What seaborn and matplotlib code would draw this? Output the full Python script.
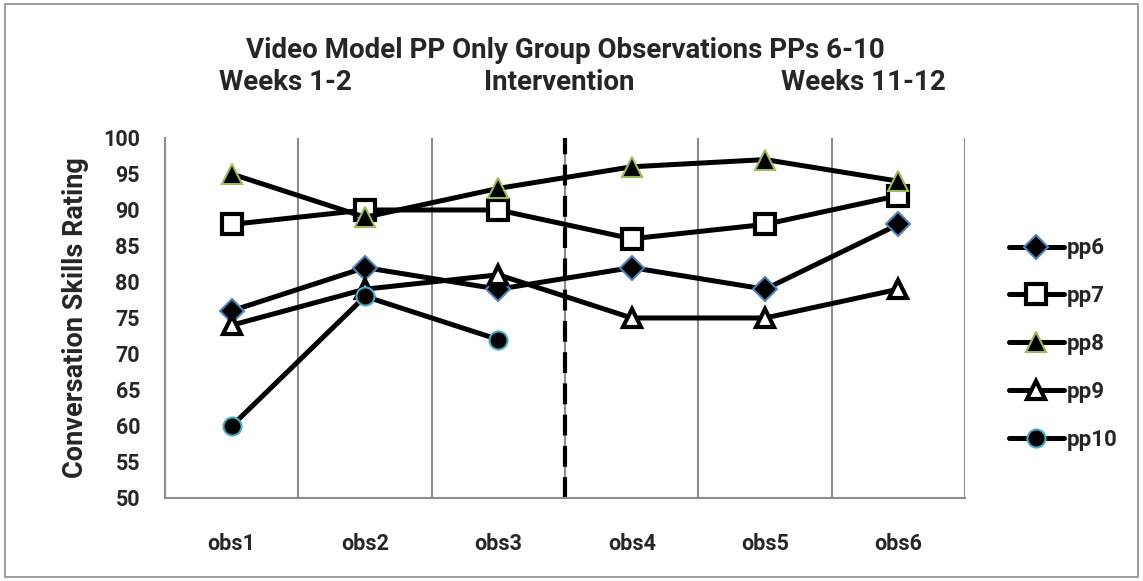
import pandas as pd
import numpy as np
import matplotlib
matplotlib.use('Agg')
import matplotlib.pyplot as plt
import seaborn as sns
from matplotlib.patches import Rectangle

# Data
obs = ['obs1', 'obs2', 'obs3', 'obs4', 'obs5', 'obs6']
pp6 = [76, 82, 79, 82, 79, 88]
pp7 = [88, 90, 90, 86, 88, 92]
pp8 = [95, 89, 93, 96, 97, 94]
pp9 = [74, 79, 81, 75, 75, 79]
pp10 = [60, 78, 72, np.nan, np.nan, np.nan]

series = {'pp6': pp6, 'pp7': pp7, 'pp8': pp8, 'pp9': pp9, 'pp10': pp10}

rows = []
for name, vals in series.items():
    for o, v in zip(obs, vals):
        rows.append({'participant': name, 'obs': o, 'rating': v})
df = pd.DataFrame(rows)

sns.set_style("white")
plt.rcParams['font.family'] = ['Roboto', 'DejaVu Sans']
plt.rcParams['font.weight'] = 'bold'

# marker styles per participant
styles = {
    'pp6': dict(marker='D', markersize=12, markerfacecolor='black', markeredgecolor='#4F81BD', markeredgewidth=1.5),
    'pp7': dict(marker='s', markersize=14, markerfacecolor='white', markeredgecolor='black', markeredgewidth=3),
    'pp8': dict(marker='^', markersize=14, markerfacecolor='black', markeredgecolor='#9BBB59', markeredgewidth=1.5),
    'pp9': dict(marker='^', markersize=13, markerfacecolor='white', markeredgecolor='black', markeredgewidth=3),
    'pp10': dict(marker='o', markersize=13, markerfacecolor='black', markeredgecolor='#4BACC6', markeredgewidth=1.5),
}

fig = plt.figure(figsize=(11.43, 5.81), dpi=100)
ax = fig.add_axes([0.1444, 0.1429, 0.7, 0.6196])

for name in series:
    sub = df[df['participant'] == name].dropna()
    sns.lineplot(data=sub, x='obs', y='rating', ax=ax, color='black', linewidth=3.6,
                 label=name, sort=False, **styles[name])

ax.set_xlim(-0.5, 5.5)
ax.set_ylim(50, 100)
ax.set_yticks(range(50, 101, 5))
ax.set_xticks(range(6))
ax.set_xticklabels(obs)
ax.set_xticks(np.arange(-0.5, 6.0, 1.0), minor=True)
ax.grid(axis='x', which='minor', color='#8c8c8c', linewidth=1.5)
ax.grid(axis='y', visible=False)
ax.tick_params(axis='x', which='major', length=0, pad=25, labelsize=15.5)
ax.tick_params(axis='x', which='minor', length=6, width=1.2, color='#8c8c8c', direction='out')
ax.tick_params(axis='y', length=6, width=1.2, color='#8c8c8c', direction='out', labelsize=15.5, pad=12)
for lbl in ax.get_xticklabels() + ax.get_yticklabels():
    lbl.set_fontweight('bold')

for side in ['top', 'right']:
    ax.spines[side].set_visible(False)
for side in ['left', 'bottom']:
    ax.spines[side].set_color('#8c8c8c')
    ax.spines[side].set_linewidth(1.5)

# intervention divider
ax.axvline(2.5, color='black', linewidth=3, dashes=(5, 2.5), zorder=1)

ax.set_xlabel('')
ax.set_ylabel('Conversation Skills Rating', fontsize=19.5, fontweight='bold', labelpad=10)

ax.get_legend().remove()
handles, labels = ax.get_legend_handles_labels()
fig.legend(handles, labels, loc='center left', bbox_to_anchor=(0.865, 0.408),
           frameon=False, handlelength=2.5, labelspacing=1.16, handletextpad=0.1,
           prop={'weight': 'bold', 'size': 16})

fig.text(0.4948, 0.900, 'Video Model PP Only Group Observations PPs 6-10',
         ha='center', va='baseline', fontsize=20, fontweight='bold')
fig.text(0.2493, 0.845, 'Weeks 1-2', ha='center', va='baseline', fontsize=20, fontweight='bold')
fig.text(0.489, 0.845, 'Intervention', ha='center', va='baseline', fontsize=20, fontweight='bold')
fig.text(0.755, 0.845, 'Weeks 11-12', ha='center', va='baseline', fontsize=20, fontweight='bold')

fig.patches.append(Rectangle((0.004, 0.007), 0.992, 0.986, transform=fig.transFigure,
                             fill=False, edgecolor='#8c8c8c', linewidth=1.2))

plt.savefig('out.png', dpi=100)
plt.close()
